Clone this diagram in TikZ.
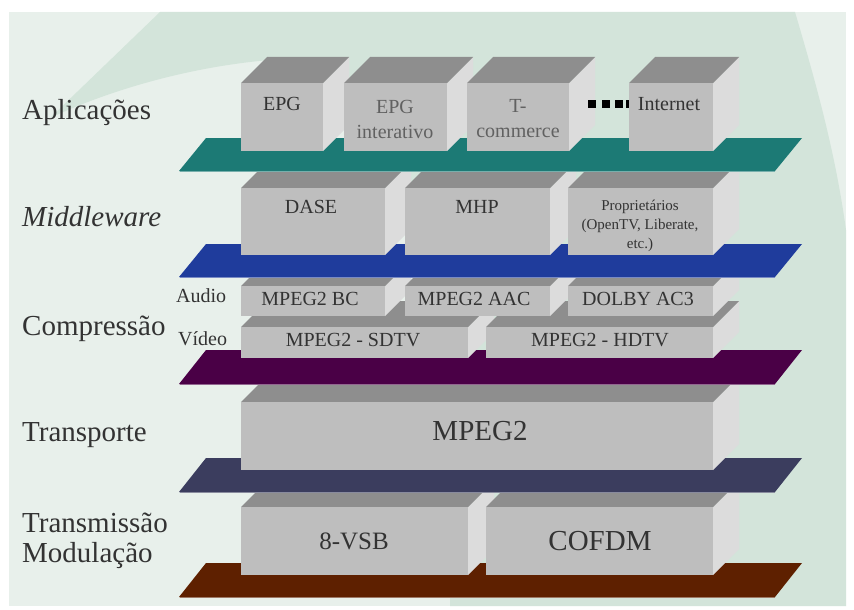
\documentclass[tikz,border=0pt]{standalone}
\usepackage{fontspec}
\setmainfont{Liberation Serif}
\newfontfamily\serifa{Liberation Serif}
\usetikzlibrary{positioning,fit}

\definecolor{fundo}{HTML}{E8F0EB}
\definecolor{fundoesc}{HTML}{D3E4DA}
\definecolor{frente}{HTML}{BEBEBE}
\definecolor{topo}{HTML}{8E8E8E}
\definecolor{lateral}{HTML}{DCDCDC}
\definecolor{aplic}{HTML}{1C7A75}
\definecolor{middle}{HTML}{1F3C9C}
\definecolor{compr}{HTML}{4A0046}
\definecolor{transp}{HTML}{3B3D5E}
\definecolor{transm}{HTML}{5E2000}

% caixa 3D: nome, x1, y1, x2, y2 (frente)
\newcommand{\bloco}[5]{%
  \fill[lateral] (#4,#3) -- ++(26,-26) -- ++(0,#5-#3) -- (#4,#5) -- cycle;
  \fill[topo] (#2,#3) -- ++(26,-26) -- (#4+26,#3-26) -- (#4,#3) -- cycle;
  \node[face, fit={(#2,#3) (#4,#5)}] (#1) {};
}
% plataforma: cor, y topo, y base
\newcommand{\plataforma}[3]{%
  \fill[#1] (179,#3) -- (206,#2) -- (802,#2) -- (775,#3) -- cycle;
  \draw[#1!60!white, line width=1pt] (179.5,#3) -- (775,#3);
}

\begin{document}
\begin{tikzpicture}[
  x=1pt, y=-1pt,
  face/.style={fill=frente, draw=none, inner sep=0pt},
  texto/.style={font=\serifa\fontsize{20}{25}\selectfont, align=center,
    text=black!80, inner sep=0pt},
  grande/.style={texto, font=\serifa\fontsize{29}{32}\selectfont},
  camada/.style={font=\serifa\fontsize{29}{31}\selectfont, anchor=base west,
    inner sep=0pt, text=black!80},
  sub/.style={font=\serifa\fontsize{20}{22}\selectfont, anchor=base west,
    inner sep=0pt, text=black!80}
]
\useasboundingbox (0,0) rectangle (854,610);
\fill[white] (0,0) rectangle (854,610);
\fill[fundo] (9,12) rectangle (846,606);
\fill[fundoesc] (160,12) -- (795,12) .. controls (815,80) and (835,150) .. (846,230)
  -- (846,606) -- (450,606) -- (450,300) -- (300,58)
  .. controls (200,62) and (110,90) .. (50,118) -- cycle;

% transmissao
\plataforma{transm}{563}{597}
\bloco{vsb}{241}{507}{468}{575}
\bloco{cofdm}{486}{507}{713}{575}
\node[grande, font=\serifa\fontsize{25}{30}\selectfont] (vsb-t) at (354,541) {8-VSB};
\node[grande] (cofdm-t) at (600,541) {COFDM};

% transporte
\plataforma{transp}{458}{492}
\bloco{mpeg}{241}{402}{713}{470}
\node[grande] (mpeg-t) at (480,431) {MPEG2};

% compressao
\plataforma{compr}{350}{384}
\bloco{sdtv}{241}{327}{468}{358}
\bloco{hdtv}{486}{327}{713}{358}
\bloco{bc}{241}{286}{385}{316}
\bloco{aac}{405}{286}{550}{316}
\bloco{ac3}{568}{286}{713}{316}
\node[texto] (sdtv-t) at (353,340) {MPEG2 - SDTV};
\node[texto] (hdtv-t) at (600,340) {MPEG2 - HDTV};
\node[texto] (bc-t) at (310,299) {MPEG2 BC};
\node[texto] (aac-t) at (474,299) {MPEG2 AAC};
\node[texto] (ac3-t) at (638,299) {DOLBY AC3};

% middleware
\plataforma{middle}{244}{277}
\bloco{dase}{241}{188}{385}{255}
\bloco{mhp}{405}{188}{550}{255}
\bloco{prop}{568}{188}{713}{255}
\node[texto] (dase-t) at (311,207) {DASE};
\node[texto] (mhp-t) at (477,207) {MHP};
\node[texto, font=\serifa\fontsize{15}{19}\selectfont] (prop-t) at (640,226)
  {Propriet\'arios\\(OpenTV, Liberate,\\etc.)};

% aplicacoes
\plataforma{aplic}{138}{171}
\bloco{epg}{241}{83}{323}{151}
\bloco{epgi}{344}{83}{447}{151}
\bloco{tcom}{467}{83}{569}{151}
\foreach \px in {588,601.5,615,626}
  \fill (\px,100) rectangle ++(8,8);
\bloco{inet}{629}{83}{713}{151}
\node[texto] (epg-t) at (282,104) {EPG};
\node[texto, text=black!62] (epgi-t) at (395,119) {EPG\\interativo};
\node[texto, text=black!62] (tcom-t) at (518,119) {T-\\commerce};
\node[texto] (inet-t) at (669,104) {Internet};

% rotulos das camadas
\node[camada] (l-aplic) at (22,119) {Aplicações};
\node[camada] (l-middle) at (22,226) {\textit{Middleware}};
\node[camada] (l-compr) at (22,335) {Compressão};
\node[sub] (l-audio) at (176,302) {Audio};
\node[sub] (l-video) at (178,345) {Vídeo};
\node[camada] (l-transp) at (22,441) {Transporte};
\node[camada] (l-transm) at (22,532) {Transmissão};
\node[camada] (l-modul) at (22,562) {Modulação};
\end{tikzpicture}
\end{document}
